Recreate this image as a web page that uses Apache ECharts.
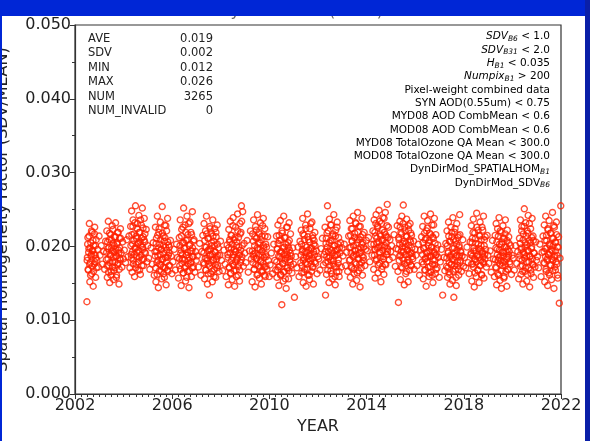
<!DOCTYPE html>
<html>
<head>
<meta charset="utf-8">
<script src="https://cdn.jsdelivr.net/npm/echarts@6/dist/echarts.min.js"></script>
<style>
  html, body { margin: 0; padding: 0; background: #fff; }
  #main { width: 590px; height: 441px; }
</style>
</head>
<body>
<div id="main"></div>
<script>
// position of each observation inside its year (fraction of year)
const season = [0.03, 0.08, 0.13, 0.18, 0.22, 0.26,
  0.29, 0.31, 0.33, 0.35, 0.37, 0.39, 0.41, 0.43, 0.45, 0.47, 0.49, 0.51, 0.53, 0.55,
  0.57, 0.59, 0.61, 0.63, 0.65, 0.67, 0.69, 0.71, 0.73, 0.75, 0.77, 0.79, 0.81, 0.83, 0.85, 0.87,
  0.90, 0.93, 0.96, 0.99]
// second overpass set, only in the dense part of the year
const season2 = [0.30, 0.32, 0.34, 0.36, 0.38, 0.40, 0.42, 0.44, 0.46, 0.48,
  0.50, 0.52, 0.54, 0.56, 0.58, 0.60, 0.62, 0.64, 0.66, 0.68,
  0.70, 0.72, 0.74, 0.76, 0.78, 0.80, 0.82, 0.84, 0.86, 0.88]

const years = [2002, 2003, 2004, 2005, 2006, 2007, 2008, 2009, 2010, 2011,
  2012, 2013, 2014, 2015, 2016, 2017, 2018, 2019, 2020, 2021]

const y2002 = [null, null, null, null, null, null, null, null, null, null, null, null, null, null, null, null,
  0.0125, 0.0185, 0.0212, 0.0168, 0.0197, 0.0231, 0.0152, 0.0178, 0.0205, 0.0189, 0.0163, 0.0219, 0.0194, 0.0146,
  0.0201, 0.0176, 0.0226, 0.0188, 0.0158, 0.0209, 0.0181, 0.0196, 0.0172, 0.0214]
const y2003 = [0.0188, 0.0201, 0.0176, 0.0193, 0.0169, 0.0207,
  0.0182, 0.0221, 0.0158, 0.0197, 0.0234, 0.0174, 0.0209, 0.0151, 0.0189, 0.0216, 0.0166, 0.0198, 0.0228, 0.0179,
  0.0204, 0.0155, 0.0192, 0.0213, 0.0171, 0.0232, 0.0186, 0.0161, 0.0203, 0.0219, 0.0177, 0.0195, 0.0149, 0.0211, 0.0184, 0.0224,
  0.0191, 0.0172, 0.0206, 0.0183]
const y2004 = [0.0195, 0.0178, 0.0209, 0.0186, 0.0214, 0.0171,
  0.0227, 0.0189, 0.0248, 0.0165, 0.0203, 0.0236, 0.0181, 0.0217, 0.0159, 0.0198, 0.0255, 0.0176, 0.0211, 0.0192,
  0.0231, 0.0168, 0.0205, 0.0242, 0.0185, 0.0219, 0.0162, 0.0201, 0.0229, 0.0174, 0.0252, 0.0196, 0.0213, 0.0183, 0.0238, 0.0206,
  0.0191, 0.0223, 0.0179, 0.0201]
const y2005 = [0.0184, 0.0169, 0.0198, 0.0176, 0.0205, 0.0161,
  0.0193, 0.0226, 0.0152, 0.0211, 0.0178, 0.0241, 0.0187, 0.0144, 0.0219, 0.0167, 0.0203, 0.0233, 0.0175, 0.0196,
  0.0156, 0.0254, 0.0182, 0.0214, 0.0163, 0.0207, 0.0229, 0.0171, 0.0199, 0.0148, 0.0221, 0.0185, 0.0238, 0.0166, 0.0202, 0.0191,
  0.0174, 0.0208, 0.0187, 0.0163]
const y2006 = [0.0179, 0.0196, 0.0168, 0.0203, 0.0185, 0.0157,
  0.0212, 0.0174, 0.0236, 0.0191, 0.0147, 0.0223, 0.0183, 0.0205, 0.0164, 0.0252, 0.0198, 0.0171, 0.0229, 0.0153,
  0.0208, 0.0188, 0.0241, 0.0166, 0.0216, 0.0181, 0.0144, 0.0201, 0.0233, 0.0177, 0.0219, 0.0159, 0.0194, 0.0247, 0.0186, 0.0172,
  0.0209, 0.0165, 0.0193, 0.0181]
const y2007 = [0.0187, 0.0172, 0.0204, 0.0161, 0.0193, 0.0215,
  0.0178, 0.0231, 0.0156, 0.0199, 0.0221, 0.0168, 0.0241, 0.0184, 0.0149, 0.0211, 0.0176, 0.0196, 0.0134, 0.0227,
  0.0189, 0.0163, 0.0218, 0.0201, 0.0152, 0.0236, 0.0181, 0.0207, 0.0169, 0.0224, 0.0192, 0.0158, 0.0213, 0.0183, 0.0229, 0.0174,
  0.0198, 0.0166, 0.0188, 0.0207]
const y2008 = [0.0181, 0.0167, 0.0195, 0.0176, 0.0159, 0.0202,
  0.0189, 0.0148, 0.0223, 0.0171, 0.0206, 0.0234, 0.0163, 0.0197, 0.0215, 0.0155, 0.0185, 0.0239, 0.0174, 0.0209,
  0.0146, 0.0193, 0.0226, 0.0168, 0.0201, 0.0182, 0.0244, 0.0161, 0.0212, 0.0191, 0.0153, 0.0231, 0.0178, 0.0219, 0.0255, 0.0186,
  0.0247, 0.0173, 0.0204, 0.0191]
const y2009 = [0.0178, 0.0208, 0.0165, 0.0194, 0.0221, 0.0183,
  0.0152, 0.0217, 0.0189, 0.0236, 0.0169, 0.0201, 0.0145, 0.0227, 0.0184, 0.0211, 0.0161, 0.0243, 0.0196, 0.0174,
  0.0219, 0.0157, 0.0205, 0.0232, 0.0179, 0.0149, 0.0214, 0.0188, 0.0167, 0.0238, 0.0198, 0.0172, 0.0224, 0.0159, 0.0203, 0.0186,
  0.0169, 0.0213, 0.0181, 0.0159]
const y2010 = [0.0175, 0.0191, 0.0163, 0.0203, 0.0181, 0.0168,
  0.0214, 0.0158, 0.0197, 0.0229, 0.0172, 0.0147, 0.0208, 0.0186, 0.0235, 0.0162, 0.0193, 0.0121, 0.0218, 0.0177,
  0.0153, 0.0241, 0.0199, 0.0166, 0.0212, 0.0184, 0.0143, 0.0226, 0.0189, 0.0171, 0.0205, 0.0156, 0.0232, 0.0195, 0.0179, 0.0217,
  0.0187, 0.0164, 0.0198, 0.0176]
const y2011 = [0.0131, 0.0186, 0.0171, 0.0199, 0.0159, 0.0207,
  0.0178, 0.0222, 0.0164, 0.0193, 0.0238, 0.0151, 0.0184, 0.0215, 0.0169, 0.0201, 0.0229, 0.0146, 0.0192, 0.0176,
  0.0244, 0.0161, 0.0209, 0.0187, 0.0155, 0.0224, 0.0181, 0.0197, 0.0166, 0.0233, 0.0172, 0.0211, 0.0149, 0.0203, 0.0189, 0.0219,
  0.0177, 0.0194, 0.0163, 0.0186]
const y2012 = [0.0183, 0.0168, 0.0197, 0.0211, 0.0175, 0.0189,
  0.0226, 0.0134, 0.0204, 0.0162, 0.0218, 0.0255, 0.0179, 0.0193, 0.0151, 0.0237, 0.0186, 0.0208, 0.0167, 0.0229,
  0.0195, 0.0156, 0.0214, 0.0181, 0.0243, 0.0173, 0.0201, 0.0148, 0.0222, 0.0188, 0.0165, 0.0233, 0.0196, 0.0177, 0.0212, 0.0159,
  0.0191, 0.0205, 0.0172, 0.0198]
const y2013 = [0.0187, 0.0203, 0.0174, 0.0192, 0.0166, 0.0214,
  0.0181, 0.0235, 0.0158, 0.0199, 0.0224, 0.0171, 0.0207, 0.0149, 0.0241, 0.0188, 0.0163, 0.0218, 0.0195, 0.0232,
  0.0176, 0.0154, 0.0209, 0.0246, 0.0183, 0.0167, 0.0227, 0.0191, 0.0145, 0.0213, 0.0198, 0.0178, 0.0238, 0.0161, 0.0205, 0.0185,
  0.0219, 0.0174, 0.0196, 0.0208]
const y2014 = [0.0194, 0.0212, 0.0179, 0.0203, 0.0188, 0.0221,
  0.0169, 0.0236, 0.0196, 0.0157, 0.0214, 0.0243, 0.0183, 0.0205, 0.0228, 0.0164, 0.0199, 0.0249, 0.0177, 0.0217,
  0.0191, 0.0152, 0.0231, 0.0208, 0.0173, 0.0239, 0.0186, 0.0162, 0.0219, 0.0201, 0.0246, 0.0175, 0.0213, 0.0189, 0.0257, 0.0197,
  0.0226, 0.0182, 0.0209, 0.0193]
const y2015 = [0.0201, 0.0185, 0.0216, 0.0173, 0.0197, 0.0228,
  0.0166, 0.0124, 0.0209, 0.0187, 0.0234, 0.0155, 0.0219, 0.0193, 0.0241, 0.0171, 0.0204, 0.0256, 0.0181, 0.0148,
  0.0226, 0.0199, 0.0163, 0.0213, 0.0237, 0.0178, 0.0195, 0.0152, 0.0222, 0.0189, 0.0168, 0.0231, 0.0206, 0.0174, 0.0215, 0.0191,
  0.0183, 0.0207, 0.0169, 0.0196]
const y2016 = [0.0188, 0.0174, 0.0203, 0.0161, 0.0195, 0.0213,
  0.0179, 0.0227, 0.0156, 0.0198, 0.0241, 0.0168, 0.0209, 0.0184, 0.0146, 0.0221, 0.0191, 0.0235, 0.0172, 0.0205,
  0.0159, 0.0218, 0.0186, 0.0244, 0.0165, 0.0199, 0.0229, 0.0176, 0.0151, 0.0211, 0.0193, 0.0238, 0.0181, 0.0163, 0.0216, 0.0189,
  0.0171, 0.0202, 0.0185, 0.0158]
const y2017 = [0.0179, 0.0196, 0.0134, 0.0185, 0.0167, 0.0204,
  0.0173, 0.0221, 0.0158, 0.0191, 0.0233, 0.0165, 0.0207, 0.0149, 0.0186, 0.0226, 0.0176, 0.0213, 0.0154, 0.0239,
  0.0182, 0.0131, 0.0198, 0.0219, 0.0169, 0.0208, 0.0147, 0.0231, 0.0188, 0.0174, 0.0215, 0.0161, 0.0201, 0.0243, 0.0178, 0.0194,
  0.0166, 0.0187, 0.0209, 0.0173]
const y2018 = [0.0185, 0.0171, 0.0199, 0.0178, 0.0163, 0.0206,
  0.0189, 0.0228, 0.0153, 0.0211, 0.0176, 0.0237, 0.0194, 0.0145, 0.0218, 0.0182, 0.0204, 0.0159, 0.0245, 0.0187,
  0.0168, 0.0222, 0.0197, 0.0151, 0.0214, 0.0233, 0.0174, 0.0201, 0.0162, 0.0226, 0.0191, 0.0179, 0.0241, 0.0157, 0.0209, 0.0183,
  0.0196, 0.0172, 0.0215, 0.0188]
const y2019 = [0.0177, 0.0194, 0.0165, 0.0208, 0.0183, 0.0159,
  0.0215, 0.0172, 0.0231, 0.0148, 0.0196, 0.0224, 0.0181, 0.0161, 0.0239, 0.0203, 0.0154, 0.0187, 0.0219, 0.0143,
  0.0206, 0.0174, 0.0228, 0.0192, 0.0157, 0.0211, 0.0179, 0.0236, 0.0166, 0.0199, 0.0146, 0.0222, 0.0185, 0.0169, 0.0213, 0.0193,
  0.0176, 0.0201, 0.0162, 0.0188]
const y2020 = [0.0184, 0.0168, 0.0201, 0.0177, 0.0193, 0.0156,
  0.0211, 0.0183, 0.0236, 0.0162, 0.0198, 0.0227, 0.0174, 0.0149, 0.0217, 0.0189, 0.0251, 0.0166, 0.0205, 0.0232,
  0.0179, 0.0153, 0.0221, 0.0195, 0.0242, 0.0171, 0.0208, 0.0145, 0.0187, 0.0224, 0.0163, 0.0199, 0.0238, 0.0176, 0.0214, 0.0158,
  0.0191, 0.0172, 0.0206, 0.0181]
const y2021 = [0.0186, 0.0171, 0.0203, 0.0159, 0.0192, 0.0214,
  0.0178, 0.0229, 0.0152, 0.0197, 0.0241, 0.0166, 0.0208, 0.0183, 0.0147, 0.0222, 0.0189, 0.0235, 0.0161, 0.0201,
  0.0174, 0.0218, 0.0155, 0.0194, 0.0246, 0.0181, 0.0211, 0.0143, 0.0226, 0.0187, 0.0168, 0.0205, 0.0233, 0.0176, 0.0199, 0.0157,
  0.0213, 0.0123, 0.0184, 0.0255]

const z2002 = [null, null, null, null, null, null, null, null, null, null,
  0.0181, 0.0203, 0.0169, 0.0192, 0.0214, 0.0176, 0.0198, 0.0161, 0.0187, 0.0221,
  0.0173, 0.0195, 0.0208, 0.0166, 0.0189, 0.0217, 0.0179, 0.0201, 0.0184, 0.0171]
const z2003 = [0.0192, 0.0174, 0.0206, 0.0183, 0.0165, 0.0199, 0.0218, 0.0178, 0.0188, 0.0161,
  0.0209, 0.0194, 0.0172, 0.0223, 0.0185, 0.0167, 0.0201, 0.0179, 0.0213, 0.0196,
  0.0158, 0.0187, 0.0205, 0.0175, 0.0219, 0.0191, 0.0169, 0.0198, 0.0182, 0.0211]
const z2004 = [0.0201, 0.0184, 0.0216, 0.0193, 0.0227, 0.0176, 0.0208, 0.0189, 0.0232, 0.0197,
  0.0171, 0.0214, 0.0186, 0.0224, 0.0203, 0.0179, 0.0195, 0.0219, 0.0168, 0.0206,
  0.0236, 0.0188, 0.0211, 0.0182, 0.0199, 0.0225, 0.0174, 0.0209, 0.0192, 0.0217]
const z2005 = [0.0187, 0.0171, 0.0204, 0.0193, 0.0162, 0.0215, 0.0181, 0.0198, 0.0224, 0.0176,
  0.0189, 0.0209, 0.0166, 0.0196, 0.0183, 0.0218, 0.0172, 0.0201, 0.0191, 0.0158,
  0.0212, 0.0185, 0.0228, 0.0179, 0.0195, 0.0168, 0.0206, 0.0188, 0.0174, 0.0199]
const z2006 = [0.0183, 0.0201, 0.0169, 0.0195, 0.0214, 0.0177, 0.0189, 0.0226, 0.0164, 0.0205,
  0.0182, 0.0197, 0.0173, 0.0219, 0.0188, 0.0158, 0.0209, 0.0192, 0.0176, 0.0231,
  0.0185, 0.0167, 0.0203, 0.0194, 0.0179, 0.0216, 0.0171, 0.0198, 0.0186, 0.0207]
const z2007 = [0.0191, 0.0176, 0.0208, 0.0184, 0.0168, 0.0199, 0.0217, 0.0181, 0.0194, 0.0163,
  0.0211, 0.0187, 0.0173, 0.0224, 0.0196, 0.0178, 0.0205, 0.0166, 0.0189, 0.0214,
  0.0182, 0.0159, 0.0201, 0.0193, 0.0175, 0.0219, 0.0186, 0.0171, 0.0203, 0.0188]
const z2008 = [0.0185, 0.0198, 0.0172, 0.0209, 0.0191, 0.0164, 0.0215, 0.0181, 0.0203, 0.0176,
  0.0228, 0.0189, 0.0167, 0.0196, 0.0212, 0.0179, 0.0193, 0.0159, 0.0206, 0.0184,
  0.0221, 0.0173, 0.0199, 0.0188, 0.0168, 0.0217, 0.0195, 0.0182, 0.0234, 0.0201]
const z2009 = [0.0194, 0.0178, 0.0207, 0.0186, 0.0169, 0.0213, 0.0191, 0.0175, 0.0222, 0.0183,
  0.0198, 0.0162, 0.0205, 0.0188, 0.0217, 0.0172, 0.0196, 0.0181, 0.0209, 0.0166,
  0.0193, 0.0228, 0.0177, 0.0201, 0.0185, 0.0161, 0.0214, 0.0189, 0.0173, 0.0199]
const z2010 = [0.0179, 0.0196, 0.0168, 0.0204, 0.0187, 0.0215, 0.0173, 0.0192, 0.0161, 0.0209,
  0.0183, 0.0221, 0.0177, 0.0198, 0.0165, 0.0189, 0.0212, 0.0181, 0.0156, 0.0203,
  0.0194, 0.0171, 0.0226, 0.0185, 0.0199, 0.0167, 0.0208, 0.0182, 0.0191, 0.0174]
const z2011 = [0.0188, 0.0203, 0.0174, 0.0196, 0.0217, 0.0181, 0.0165, 0.0209, 0.0192, 0.0178,
  0.0224, 0.0186, 0.0199, 0.0169, 0.0213, 0.0183, 0.0195, 0.0161, 0.0206, 0.0189,
  0.0231, 0.0176, 0.0198, 0.0184, 0.0215, 0.0172, 0.0193, 0.0208, 0.0179, 0.0201]
const z2012 = [0.0193, 0.0178, 0.0211, 0.0186, 0.0199, 0.0168, 0.0221, 0.0184, 0.0205, 0.0174,
  0.0196, 0.0229, 0.0181, 0.0163, 0.0208, 0.0191, 0.0217, 0.0176, 0.0201, 0.0187,
  0.0159, 0.0214, 0.0195, 0.0172, 0.0226, 0.0189, 0.0203, 0.0182, 0.0166, 0.0198]
const z2013 = [0.0198, 0.0182, 0.0215, 0.0191, 0.0173, 0.0207, 0.0224, 0.0186, 0.0201, 0.0169,
  0.0212, 0.0194, 0.0178, 0.0231, 0.0189, 0.0205, 0.0164, 0.0219, 0.0196, 0.0183,
  0.0209, 0.0176, 0.0227, 0.0192, 0.0171, 0.0203, 0.0187, 0.0216, 0.0181, 0.0199]
const z2014 = [0.0203, 0.0188, 0.0219, 0.0196, 0.0231, 0.0181, 0.0211, 0.0198, 0.0226, 0.0175,
  0.0206, 0.0192, 0.0234, 0.0185, 0.0214, 0.0201, 0.0169, 0.0222, 0.0195, 0.0209,
  0.0183, 0.0238, 0.0199, 0.0176, 0.0216, 0.0205, 0.0189, 0.0228, 0.0193, 0.0212]
const z2015 = [0.0196, 0.0212, 0.0181, 0.0203, 0.0226, 0.0188, 0.0172, 0.0217, 0.0199, 0.0184,
  0.0231, 0.0193, 0.0207, 0.0176, 0.0221, 0.0189, 0.0204, 0.0166, 0.0214, 0.0195,
  0.0182, 0.0228, 0.0201, 0.0179, 0.0209, 0.0191, 0.0218, 0.0174, 0.0198, 0.0186]
const z2016 = [0.0189, 0.0205, 0.0176, 0.0197, 0.0218, 0.0183, 0.0168, 0.0211, 0.0192, 0.0179,
  0.0225, 0.0186, 0.0201, 0.0164, 0.0208, 0.0194, 0.0173, 0.0216, 0.0187, 0.0199,
  0.0161, 0.0213, 0.0182, 0.0229, 0.0191, 0.0175, 0.0204, 0.0188, 0.0169, 0.0197]
const z2017 = [0.0184, 0.0201, 0.0171, 0.0193, 0.0214, 0.0178, 0.0162, 0.0206, 0.0188, 0.0175,
  0.0219, 0.0183, 0.0197, 0.0166, 0.0209, 0.0191, 0.0174, 0.0224, 0.0186, 0.0158,
  0.0203, 0.0195, 0.0179, 0.0212, 0.0169, 0.0199, 0.0187, 0.0216, 0.0181, 0.0192]
const z2018 = [0.0191, 0.0176, 0.0205, 0.0187, 0.0219, 0.0172, 0.0198, 0.0183, 0.0164, 0.0211,
  0.0194, 0.0179, 0.0226, 0.0189, 0.0168, 0.0203, 0.0185, 0.0215, 0.0174, 0.0196,
  0.0181, 0.0209, 0.0161, 0.0193, 0.0222, 0.0186, 0.0177, 0.0201, 0.0189, 0.0213]
const z2019 = [0.0182, 0.0198, 0.0171, 0.0206, 0.0189, 0.0163, 0.0214, 0.0185, 0.0195, 0.0176,
  0.0221, 0.0181, 0.0167, 0.0203, 0.0192, 0.0178, 0.0211, 0.0187, 0.0159, 0.0199,
  0.0217, 0.0174, 0.0193, 0.0183, 0.0208, 0.0169, 0.0196, 0.0188, 0.0204, 0.0179]
const z2020 = [0.0188, 0.0204, 0.0173, 0.0196, 0.0221, 0.0181, 0.0166, 0.0209, 0.0192, 0.0227,
  0.0184, 0.0199, 0.0171, 0.0214, 0.0187, 0.0202, 0.0162, 0.0218, 0.0194, 0.0179,
  0.0231, 0.0186, 0.0205, 0.0168, 0.0197, 0.0212, 0.0183, 0.0175, 0.0208, 0.0191]
const z2021 = [0.0193, 0.0177, 0.0208, 0.0186, 0.0169, 0.0215, 0.0198, 0.0181, 0.0224, 0.0189,
  0.0164, 0.0203, 0.0192, 0.0218, 0.0175, 0.0196, 0.0183, 0.0211, 0.0167, 0.0201,
  0.0228, 0.0185, 0.0172, 0.0206, 0.0194, 0.0179, 0.0216, 0.0188, 0.0161, 0.0199]

const byYear = [y2002, y2003, y2004, y2005, y2006, y2007, y2008, y2009, y2010, y2011,
  y2012, y2013, y2014, y2015, y2016, y2017, y2018, y2019, y2020, y2021]
const byYear2 = [z2002, z2003, z2004, z2005, z2006, z2007, z2008, z2009, z2010, z2011,
  z2012, z2013, z2014, z2015, z2016, z2017, z2018, z2019, z2020, z2021]

const statNames = ['AVE', 'SDV', 'MIN', 'MAX', 'NUM', 'NUM_INVALID']
const statValues = ['0.019', '0.002', '0.012', '0.026', '3265', '0']

const filters = [
  '{i|SDV}{s|B6}{n| < 1.0}',
  '{i|SDV}{s|B31}{n| < 2.0}',
  '{i|H}{s|B1}{n| < 0.035}',
  '{i|Numpix}{s|B1}{n| > 200}',
  '{n|Pixel-weight combined data}',
  '{n|SYN AOD(0.55um) < 0.75}',
  '{n|MYD08 AOD CombMean < 0.6}',
  '{n|MOD08 AOD CombMean < 0.6}',
  '{n|MYD08 TotalOzone QA Mean < 300.0}',
  '{n|MOD08 TotalOzone QA Mean < 300.0}',
  '{n|DynDirMod_SPATIALHOM}{s|B1}',
  '{n|DynDirMod_SDV}{s|B6}'
]

const points = []
const addYears = (sets, pos) => {
  sets.forEach((vals, k) => {
    vals.forEach((v, i) => {
      if (v !== null) points.push([years[k] + pos[i], v])
    })
  })
}
addYears(byYear, season)
addYears(byYear2, season2)

const font = 'DejaVu Sans'
const textColor = '#222'
const red = '#ff2200'

const richStyle = {
  n: {fontFamily: font, fontSize: 10.5, color: textColor, lineHeight: 13},
  i: {fontFamily: font, fontSize: 10.5, fontStyle: 'italic', color: textColor, lineHeight: 13},
  s: {fontFamily: font, fontSize: 7.5, fontStyle: 'italic', color: textColor, lineHeight: 13, verticalAlign: 'bottom', padding: [4, 0, 0, 0]}
}

const graphics = []
// title, mostly hidden behind the blue band
graphics.push({type: 'text', left: 'center', top: 4, z: 1,
  style: {text: 'Libya-4 Desert (SNPP)', fontFamily: font, fontSize: 16, fill: '#666'}})
// blue frame of the slide
graphics.push({type: 'rect', shape: {x: 0, y: 0, width: 590, height: 16}, style: {fill: '#0026d6'}, z: 100})
graphics.push({type: 'rect', shape: {x: 0, y: 0, width: 2, height: 441}, style: {fill: '#0026d6'}, z: 100})
graphics.push({type: 'rect', shape: {x: 585, y: 0, width: 5, height: 441}, style: {fill: '#0a1fa8'}, z: 100})

statNames.forEach((name, i) => {
  const y = 39 + i * 14.5
  graphics.push({type: 'text', x: 88, y: y, z: 10,
    style: {text: name, fontFamily: font, fontSize: 11.5, fill: textColor, textVerticalAlign: 'middle'}})
  graphics.push({type: 'text', x: 213, y: y, z: 10,
    style: {text: statValues[i], fontFamily: font, fontSize: 11.5, fill: textColor, textAlign: 'right', textVerticalAlign: 'middle'}})
})

filters.forEach((f, i) => {
  graphics.push({type: 'text', x: 550, y: 36.7 + i * 13.3, z: 10,
    style: {text: f, rich: richStyle, textAlign: 'right', textVerticalAlign: 'middle'}})
})

const chart = echarts.init(document.getElementById('main'), null, {renderer: 'canvas'})
chart.setOption({
  animation: false,
  backgroundColor: '#fff',
  textStyle: {fontFamily: font},
  grid: {left: 75, right: 29, top: 25, bottom: 47, outerBoundsMode: 'none', show: true, borderColor: '#333', borderWidth: 1.2},
  xAxis: {
    type: 'value',
    min: 2002,
    max: 2022,
    interval: 4,
    name: 'YEAR',
    nameLocation: 'middle',
    nameGap: 24,
    nameTextStyle: {fontFamily: font, fontSize: 16, color: textColor},
    axisLine: {show: true, onZero: false, lineStyle: {color: '#333', width: 1.2}},
    axisTick: {show: true, length: 5, lineStyle: {color: '#333'}},
    minorTick: {show: true, splitNumber: 16, length: 3, lineStyle: {color: '#333'}},
    splitLine: {show: false},
    axisLabel: {fontFamily: font, fontSize: 16, color: textColor, margin: 4, formatter: v => String(v)}
  },
  yAxis: {
    type: 'value',
    min: 0,
    max: 0.05,
    interval: 0.01,
    name: 'Spatial Homogeneity Factor (SDV/MEAN)',
    nameLocation: 'middle',
    nameGap: 64,
    nameTextStyle: {fontFamily: font, fontSize: 16, color: textColor},
    axisLine: {show: true, lineStyle: {color: '#333', width: 1.2}},
    axisTick: {show: true, length: 5, lineStyle: {color: '#333'}},
    minorTick: {show: true, splitNumber: 2, length: 3, lineStyle: {color: '#333'}},
    splitLine: {show: false},
    axisLabel: {fontFamily: font, fontSize: 16, color: textColor, margin: 4, formatter: v => v.toFixed(3)}
  },
  graphic: graphics,
  series: [
    {
      type: 'scatter',
      data: points,
      symbol: 'circle',
      symbolSize: 6,
      itemStyle: {color: 'transparent', borderColor: red, borderWidth: 1.4},
      clip: true
    }
  ]
})
</script>
</body>
</html>
